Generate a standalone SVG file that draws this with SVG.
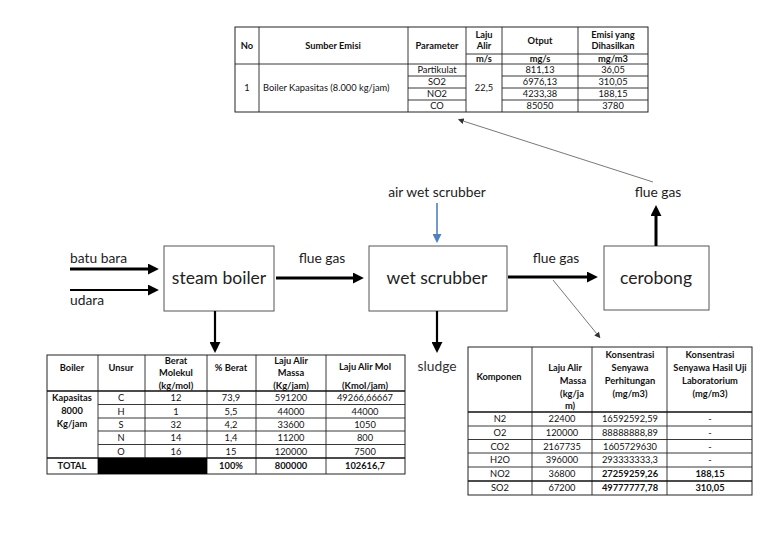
<svg xmlns="http://www.w3.org/2000/svg" width="768" height="543" viewBox="0 0 768 543">
<defs>
<style>
text{font-family:Lato,"Open Sans","Liberation Sans",sans-serif;fill:#111}
.t{font-size:9.3px;text-anchor:middle}
.tl{font-size:9.3px}
.b{font-weight:bold}
.cell{fill:#fff;stroke:#222;stroke-width:1}
.ln{stroke:#222;stroke-width:0.9;fill:none}
.lnb{stroke:#111;stroke-width:1.6;fill:none}
.box{fill:#fff;stroke:#555;stroke-width:1}
.lbl{font-size:13.8px;fill:#222}
.big{font-size:17.5px;text-anchor:middle;fill:#222}
.thick{stroke:#000;stroke-width:3;fill:none}
.mid{stroke:#000;stroke-width:2.2;fill:none}
.thin{stroke:#555;stroke-width:0.8;fill:none}
.blue{stroke:#4f81bd;stroke-width:1.6;fill:none}
</style>
<marker id="ah" viewBox="0 0 10 10" refX="1" refY="5" markerWidth="11" markerHeight="11" markerUnits="userSpaceOnUse" orient="auto"><path d="M0,0 L10,5 L0,10 z" fill="#000"/></marker>
<marker id="ahb" viewBox="0 0 10 10" refX="1" refY="5" markerWidth="9" markerHeight="9" markerUnits="userSpaceOnUse" orient="auto"><path d="M0,0 L10,5 L0,10 z" fill="#4f81bd"/></marker>
<marker id="aht" viewBox="0 0 10 10" refX="1" refY="5" markerWidth="6" markerHeight="6" markerUnits="userSpaceOnUse" orient="auto"><path d="M0,0 L10,5 L0,10 z" fill="#333"/></marker>
</defs>
<rect width="768" height="543" fill="#fff"/>

<!-- Top table -->
<g id="table-emisi">
<rect x="235" y="27" width="413" height="85" class="cell"/>
<path class="ln" d="M259,27V112 M408,27V112 M466,27V112 M502,27V112 M578,27V112 M466,54H648 M235,64H648 M408,76H466 M408,88H466 M408,100H466 M502,76H648 M502,88H648 M502,100H648"/>
<text class="t b" x="247" y="49">No</text>
<text class="t b" x="333" y="49">Sumber Emisi</text>
<text class="t b" x="437" y="49">Parameter</text>
<text class="t b" x="484" y="38">Laju</text>
<text class="t b" x="484" y="49">Alir</text>
<text class="t b" x="540" y="44">Otput</text>
<text class="t b" x="613" y="38">Emisi yang</text>
<text class="t b" x="613" y="49">Dihasilkan</text>
<text class="t b" x="484" y="62">m/s</text>
<text class="t b" x="540" y="62">mg/s</text>
<text class="t b" x="613" y="62">mg/m3</text>
<text class="t" x="247" y="91">1</text>
<text class="tl" x="263" y="91">Boiler Kapasitas (8.000 kg/jam)</text>
<text class="t" x="437" y="73">Partikulat</text>
<text class="t" x="437" y="85">SO2</text>
<text class="t" x="437" y="97">NO2</text>
<text class="t" x="437" y="109">CO</text>
<text class="t" x="484" y="91">22,5</text>
<text class="t" x="540" y="73">811,13</text>
<text class="t" x="540" y="85">6976,13</text>
<text class="t" x="540" y="97">4233,38</text>
<text class="t" x="540" y="109">85050</text>
<text class="t" x="613" y="73">36,05</text>
<text class="t" x="613" y="85">310,05</text>
<text class="t" x="613" y="97">188,15</text>
<text class="t" x="613" y="109">3780</text>
</g>

<!-- Left table -->
<g id="table-boiler">
<rect x="47" y="355" width="358" height="119" class="cell"/>
<path class="ln" d="M98,355V474 M145,355V458 M207,355V474 M256,355V474 M326,355V474 M98,404.5H405 M98,418H405 M98,431H405 M98,444.5H405"/>
<path class="lnb" d="M47,391H405 M47,458H405"/>
<rect x="98" y="458" width="109" height="16" fill="#000"/>
<text class="t b" x="72" y="371">Boiler</text>
<text class="t b" x="121" y="371">Unsur</text>
<text class="t b" x="176" y="364">Berat</text>
<text class="t b" x="176" y="376">Molekul</text>
<text class="t b" x="176" y="389">(kg/mol)</text>
<text class="t b" x="231" y="371">% Berat</text>
<text class="t b" x="291" y="364">Laju Alir</text>
<text class="t b" x="291" y="376">Massa</text>
<text class="t b" x="291" y="389">(Kg/jam)</text>
<text class="t b" x="365" y="370">Laju Alir Mol</text>
<text class="t b" x="365" y="389">(Kmol/jam)</text>
<text class="t b" x="72" y="401">Kapasitas</text>
<text class="t b" x="72" y="414">8000</text>
<text class="t b" x="72" y="427">Kg/jam</text>
<text class="t" x="121" y="401">C</text><text class="t" x="176" y="401">12</text><text class="t" x="231" y="401">73,9</text><text class="t" x="291" y="401">591200</text><text class="t" x="365" y="401">49266,66667</text>
<text class="t" x="121" y="414.5">H</text><text class="t" x="176" y="414.5">1</text><text class="t" x="231" y="414.5">5,5</text><text class="t" x="291" y="414.5">44000</text><text class="t" x="365" y="414.5">44000</text>
<text class="t" x="121" y="427.5">S</text><text class="t" x="176" y="427.5">32</text><text class="t" x="231" y="427.5">4,2</text><text class="t" x="291" y="427.5">33600</text><text class="t" x="365" y="427.5">1050</text>
<text class="t" x="121" y="441">N</text><text class="t" x="176" y="441">14</text><text class="t" x="231" y="441">1,4</text><text class="t" x="291" y="441">11200</text><text class="t" x="365" y="441">800</text>
<text class="t" x="121" y="454.5">O</text><text class="t" x="176" y="454.5">16</text><text class="t" x="231" y="454.5">15</text><text class="t" x="291" y="454.5">120000</text><text class="t" x="365" y="454.5">7500</text>
<text class="t b" x="72" y="469">TOTAL</text>
<text class="t b" x="231" y="469">100%</text>
<text class="t b" x="291" y="469">800000</text>
<text class="t b" x="365" y="469">102616,7</text>
</g>

<!-- Right table -->
<g id="table-komponen">
<rect x="468" y="347" width="284" height="148" class="cell" stroke-width="1.4"/>
<path class="ln" d="M532,347V495 M592,347V495 M667,347V495 M468,426H752 M468,439.5H752 M468,453H752 M468,467H752"/>
<path class="lnb" d="M468,412H752 M468,481H752"/>
<text class="t b" x="499" y="380">Komponen</text>
<text class="t b" x="565" y="371">Laju Alir</text>
<text class="t b" x="573" y="384">Massa</text>
<text class="t b" x="572" y="397">(kg/ja</text>
<text class="t b" x="570" y="409">m)</text>
<text class="t b" x="630" y="358">Konsentrasi</text>
<text class="t b" x="630" y="371">Senyawa</text>
<text class="t b" x="630" y="384">Perhitungan</text>
<text class="t b" x="630" y="397">(mg/m3)</text>
<text class="t b" x="710" y="358">Konsentrasi</text>
<text class="t b" x="710" y="371">Senyawa Hasil Uji</text>
<text class="t b" x="710" y="384">Laboratorium</text>
<text class="t b" x="710" y="397">(mg/m3)</text>
<text class="t" x="500" y="422">N2</text><text class="t" x="562" y="422">22400</text><text class="t" x="630" y="422">16592592,59</text><text class="t" x="710" y="422">-</text>
<text class="t" x="500" y="436">O2</text><text class="t" x="562" y="436">120000</text><text class="t" x="630" y="436">88888888,89</text><text class="t" x="710" y="436">-</text>
<text class="t" x="500" y="449.5">CO2</text><text class="t" x="562" y="449.5">2167735</text><text class="t" x="630" y="449.5">1605729630</text><text class="t" x="710" y="449.5">-</text>
<text class="t" x="500" y="463">H2O</text><text class="t" x="562" y="463">396000</text><text class="t" x="630" y="463">293333333,3</text><text class="t" x="710" y="463">-</text>
<text class="t" x="500" y="477">NO2</text><text class="t" x="562" y="477">36800</text><text class="t b" x="630" y="477">27259259,26</text><text class="t b" x="710" y="477">188,15</text>
<text class="t" x="500" y="491">SO2</text><text class="t" x="562" y="491">67200</text><text class="t b" x="630" y="491">49777777,78</text><text class="t b" x="710" y="491">310,05</text>
</g>

<!-- Nodes -->
<g id="steam-boiler">
<rect x="164" y="246" width="110" height="65" class="box"/>
<text class="big" x="219" y="284">steam boiler</text>
</g>
<g id="wet-scrubber">
<rect x="369" y="246" width="138" height="65" class="box"/>
<text class="big" x="437" y="284">wet scrubber</text>
</g>
<g id="cerobong">
<rect x="604" y="246" width="105" height="64" class="box"/>
<text class="big" x="656" y="284">cerobong</text>
</g>

<!-- Connectors -->
<g id="connectors">
<line class="thick" x1="70" y1="269" x2="149" y2="269" marker-end="url(#ah)"/>
<line class="mid" x1="70" y1="290" x2="149" y2="290" marker-end="url(#ah)"/>
<line class="thick" x1="276" y1="278" x2="354" y2="278" marker-end="url(#ah)"/>
<line class="thick" x1="508" y1="277" x2="588" y2="277" marker-end="url(#ah)"/>
<line class="thick" x1="656" y1="246" x2="656" y2="215" marker-end="url(#ah)"/>
<line class="mid" x1="215" y1="311" x2="215" y2="343" marker-end="url(#ah)"/>
<line class="mid" x1="437" y1="311" x2="437" y2="343" marker-end="url(#ah)"/>
<line class="blue" x1="437" y1="203" x2="437" y2="235" marker-end="url(#ahb)"/>
<line class="thin" x1="553" y1="280" x2="597" y2="334" marker-end="url(#aht)"/>
<line class="thin" x1="653" y1="182" x2="463" y2="121" marker-end="url(#aht)"/>
</g>

<!-- Labels -->
<g id="labels">
<text class="lbl" x="70" y="263">batu bara</text>
<text class="lbl" x="70" y="305">udara</text>
<text class="lbl" x="322" y="263" text-anchor="middle">flue gas</text>
<text class="lbl" x="556" y="263" text-anchor="middle">flue gas</text>
<text class="lbl" x="658" y="197" text-anchor="middle">flue gas</text>
<text class="lbl" x="437" y="197" text-anchor="middle">air wet scrubber</text>
<text class="lbl" x="437" y="371" text-anchor="middle" style="fill:#333">sludge</text>
</g>
</svg>
